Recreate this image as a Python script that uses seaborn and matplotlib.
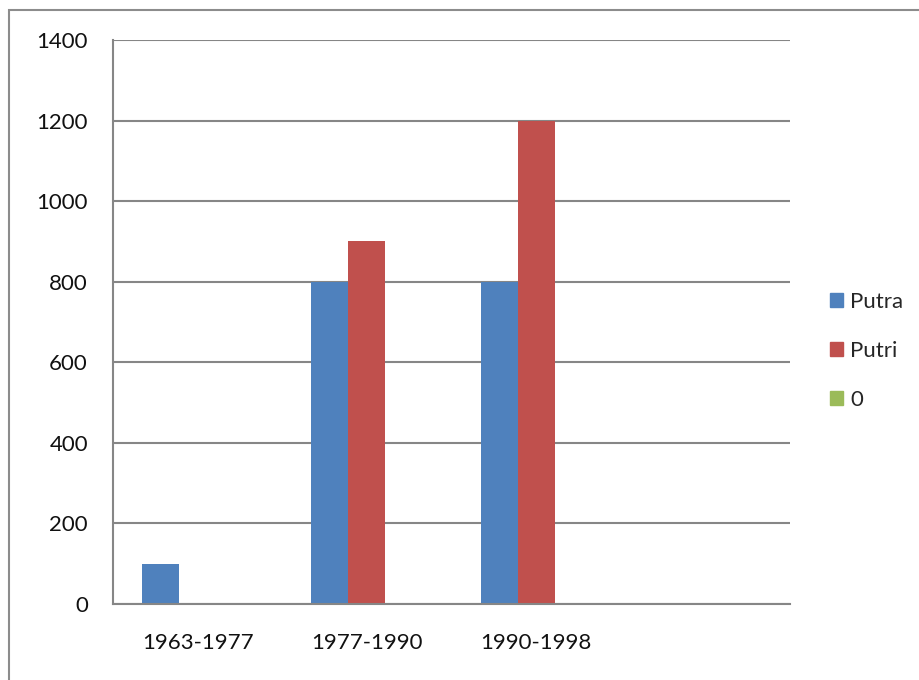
import matplotlib
matplotlib.use("Agg")
import matplotlib.pyplot as plt
import matplotlib.patches as mpatches
import pandas as pd
import seaborn as sns

# ---- data ----
periods = ["1963-1977", "1977-1990", "1990-1998"]
series = ["Putra", "Putri", "0"]
putra = [100, 800, 800]
putri = [0, 900, 1200]
zero = [0, 0, 0]
colors = ["#4F81BD", "#C0504D", "#9BBB59"]

df = pd.DataFrame({
    "period": periods * 3,
    "series": [s for s in series for _ in periods],
    "value": putra + putri + zero,
})

sns.set_style("white")
plt.rcParams["font.family"] = ["Lato", "DejaVu Sans"]

fig = plt.figure(figsize=(9.2, 6.8), dpi=100)
ax = fig.add_axes([113 / 920, 1 - 604 / 680, (790 - 113) / 920, (604 - 40) / 680])

sns.barplot(data=df, x="period", y="value", hue="series", order=periods,
            hue_order=series, palette=colors, width=0.657, saturation=1,
            linewidth=0, legend=False, ax=ax, zorder=2)

ax.set_xlim(-0.5, 3.5)
ax.set_ylim(0, 1400)
ax.set_yticks(range(0, 1401, 200))
ax.yaxis.grid(True, color="#868686", linewidth=1.5, zorder=0)
ax.set_axisbelow(True)
ax.set_xlabel("")
ax.set_ylabel("")

for s in ["top", "right"]:
    ax.spines[s].set_visible(False)
for s in ["left", "bottom"]:
    ax.spines[s].set_color("#868686")
    ax.spines[s].set_linewidth(1.5)

ax.set_xticks(range(len(periods)))
ax.set_xticklabels(periods)
ax.tick_params(axis="x", which="major", length=0, pad=21, labelsize=16, labelcolor="#111111")
ax.set_xticks([-0.5, 0.5, 1.5, 2.5, 3.5], minor=True)
ax.tick_params(axis="x", which="minor", length=7, width=1.5, color="#868686", direction="out")
ax.tick_params(axis="y", length=7, width=1.5, color="#868686", direction="out",
               pad=11, labelsize=16, labelcolor="#111111")

handles = [mpatches.Patch(color=c, label=s) for c, s in zip(colors, series)]
fig.legend(handles=handles, loc="upper left", bbox_to_anchor=(821 / 920, 1 - 283 / 680),
           frameon=False, fontsize=16, handlelength=0.6, handleheight=0.6,
           handletextpad=0.3, labelspacing=1.3, borderaxespad=0)

# chart frame (only left and top edges visible in the reference)
fig.add_artist(mpatches.Rectangle((9 / 920, -0.05), 1.0, 1 - 10 / 680 + 0.05,
                                  transform=fig.transFigure, fill=False,
                                  edgecolor="#8c8c8c", linewidth=1.5))

fig.savefig("out.png", dpi=100)
